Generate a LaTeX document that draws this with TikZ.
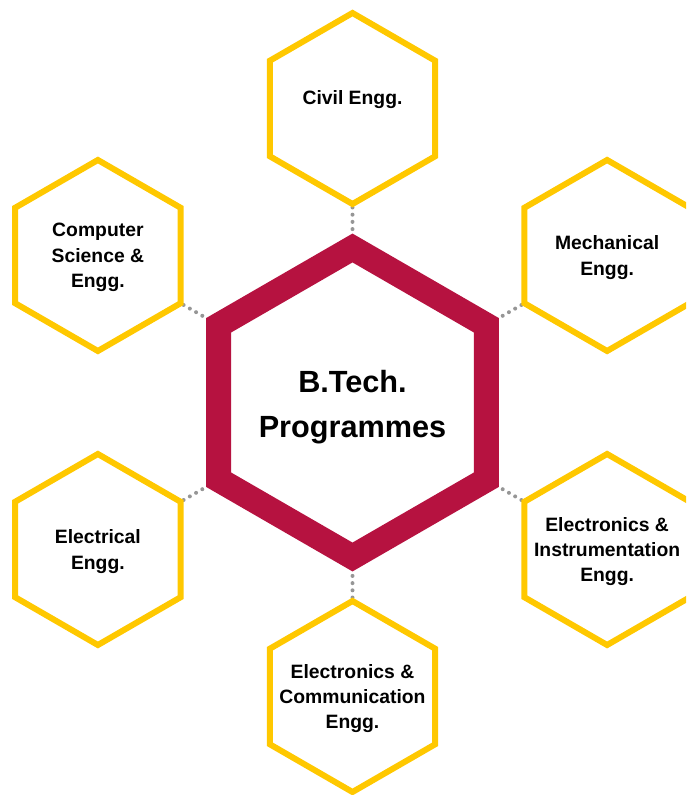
\documentclass[tikz,border=0pt]{standalone}
\usepackage{fontspec}
\setmainfont{Liberation Sans}
\usetikzlibrary{shapes.geometric,backgrounds}
\definecolor{hexred}{RGB}{182,18,64}
\definecolor{hexgold}{RGB}{255,200,0}
\definecolor{dotgray}{RGB}{150,150,150}

\tikzset{
  branch/.style={regular polygon, regular polygon sides=6, shape border rotate=30,
    draw=hexgold, line width=4.5pt, minimum size=143.25pt, inner sep=0pt},
  btext/.style={align=center, inner sep=0pt, yshift=-1.5pt,
    font=\bfseries\fontsize{14.5}{19}\selectfont},
  core/.style={regular polygon, regular polygon sides=6, shape border rotate=30,
    draw=hexred, line width=18.75pt, minimum size=231.75pt, inner sep=0pt},
  ctext/.style={align=center, inner sep=0pt, yshift=-3.5pt,
    font=\bfseries\fontsize{23}{34}\selectfont},
  link/.style={dotgray, line width=3pt, line cap=round, dash pattern=on 0pt off 5.4pt}
}

\begin{document}
\begin{tikzpicture}[x=0.75pt,y=0.75pt]
    \useasboundingbox (-352.5,-392.5) rectangle (333.5,402.5);
    \clip (-352.5,-392.5) rectangle (333.5,402.5);

    % centre
    \node [core, label={[ctext]center:B.Tech.\\Programmes}] (btech) at (0,0) {};

    % branches round it
    \node [branch, label={[btext]center:Civil Engg.\\ \mbox{}}] (civil) at (90:294) {};
    \node [branch, label={[btext]center:Mechanical\\Engg.}] (mech) at (30:294) {};
    \node [branch, label={[btext]center:Computer\\Science \&\\Engg.}] (cse) at (150:294) {};
    \node [branch, label={[btext]center:Electrical\\Engg.}] (elec) at (210:294) {};
    \node [branch, label={[btext]center:Electronics \&\\Instrumentation\\Engg.}] (ei) at (330:294) {};
    \node [branch, label={[btext]center:Electronics \&\\Communication\\Engg.}] (ec) at (270:294) {};

    \begin{scope}[on background layer]
      \draw [link] (civil.270) -- (btech.90);
      \draw [link] (mech.210) -- (btech.30);
      \draw [link] (cse.330) -- (btech.150);
      \draw [link] (elec.30) -- (btech.210);
      \draw [link] (ei.150) -- (btech.330);
      \draw [link] (ec.90) -- (btech.270);
    \end{scope}
\end{tikzpicture}
\end{document}
